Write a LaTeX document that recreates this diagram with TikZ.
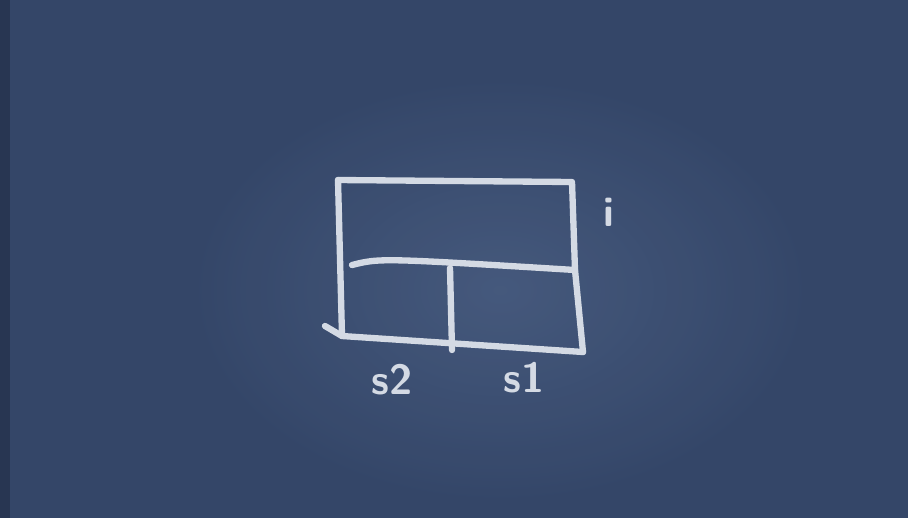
\documentclass[tikz,border=0pt]{standalone}
\usepackage{tikz}
\usetikzlibrary{positioning}
\usepackage{xcolor}
\definecolor{cbboard}{RGB}{52,70,104}
\definecolor{cbglow}{RGB}{74,94,130}
\definecolor{cbedge}{RGB}{40,54,82}
\definecolor{cbchalk}{RGB}{212,218,228}
\tikzstyle{chalk} = [line width=3.6pt, color=cbchalk, line cap=round, line join=round]
\tikzstyle{chalklabel} = [text=cbchalk, font=\sffamily\bfseries\fontsize{24}{24}\selectfont, inner sep=0pt]

\begin{document}
\begin{tikzpicture}[x=0.02cm, y=-0.02cm]
% Board
\useasboundingbox (0,0) rectangle (908,518);
\fill[cbboard] (0,0) rectangle (908,518);
\begin{scope}
\clip (0,0) rectangle (908,518);
\shade[inner color=cbglow, outer color=cbboard, opacity=0.8] (500,290) ellipse (320 and 220);
\end{scope}
\fill[cbedge] (0,0) rectangle (10,518);

% Corners
\coordinate (tl) at (338,180);
\coordinate (tr) at (572,182);
\coordinate (ml) at (352,265);
\coordinate (mr) at (575,270);
\coordinate (bl) at (342,336);
\coordinate (br) at (583,352);
\coordinate (mt) at (450,268);
\coordinate (mb) at (452,350);

% Frame
\draw[chalk] (tl) -- (tr) -- (mr);
\draw[chalk] (tl) -- (bl);
\draw[chalk] (ml) .. controls (380,258) .. (mr) -- (br);
\draw[chalk] (325,326) -- (bl) -- (br);
\draw[chalk] (mt) -- (mb);

% Labels
\node (s2) [chalklabel] at (392,380) {s2};
\node (s1) [chalklabel] at (524,378) {s1};
\node (idx) [chalklabel] at (609,212) {i};
\end{tikzpicture}
\end{document}
